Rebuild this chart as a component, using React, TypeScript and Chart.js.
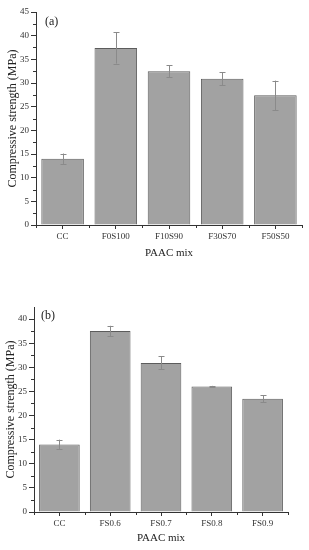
import React, { useEffect, useRef } from "react";
import { Chart, registerables } from "chart.js";

Chart.register(...registerables);

const labelsA = ["CC", "F0S100", "F10S90", "F30S70", "F50S50"];
const valuesA = [14.0, 37.4, 32.5, 30.9, 27.4];
const errorsA = [1.1, 3.3, 1.25, 1.35, 3.1];

const labelsB = ["CC", "FS0.6", "FS0.7", "FS0.8", "FS0.9"];
const valuesB = [14.0, 37.5, 30.9, 26.0, 23.5];
const errorsB = [1.0, 1.1, 1.35, 0.15, 0.75];

const yTitle = "Compressive strength (MPa)";
const xTitle = "PAAC mix";

const FONT = "'Liberation Serif', 'Times New Roman', serif";

const errorBarPlugin = {
  id: "errorBars",
  afterDatasetsDraw(chart: any, _args: any, opts: any) {
    const errs: number[] = opts.errors || [];
    const meta = chart.getDatasetMeta(0);
    const ys = chart.scales.y;
    const ds = chart.data.datasets[0].data as number[];
    const ctx = chart.ctx;
    ctx.save();
    ctx.strokeStyle = "#8a8a8a";
    ctx.lineWidth = 1;
    meta.data.forEach((bar: any, i: number) => {
      const v = ds[i];
      const e = errs[i] || 0;
      const x = Math.round(bar.x) + 0.5;
      const t = ys.getPixelForValue(v + e);
      const b = ys.getPixelForValue(v - e);
      ctx.beginPath();
      ctx.moveTo(x, t);
      ctx.lineTo(x, b);
      ctx.moveTo(x - 3, Math.round(t) + 0.5);
      ctx.lineTo(x + 3, Math.round(t) + 0.5);
      ctx.moveTo(x - 3, Math.round(b) + 0.5);
      ctx.lineTo(x + 3, Math.round(b) + 0.5);
      ctx.stroke();
    });
    ctx.restore();
  },
};

const decorPlugin = {
  id: "decor",
  afterDraw(chart: any, _args: any, opts: any) {
    const ctx = chart.ctx;
    const ys = chart.scales.y;
    const xs = chart.scales.x;
    const area = chart.chartArea;
    ctx.save();
    ctx.strokeStyle = "#333";
    ctx.lineWidth = 1;
    // minor y ticks
    for (let v = 2.5; v < ys.max; v += 5) {
      const y = Math.round(ys.getPixelForValue(v)) + 0.5;
      ctx.beginPath();
      ctx.moveTo(area.left - 3, y);
      ctx.lineTo(area.left, y);
      ctx.stroke();
    }
    // minor x ticks at category boundaries
    const n = chart.data.labels.length;
    for (let i = 0; i <= n; i++) {
      const x = Math.round(xs.getPixelForValue(i - 0.5)) + 0.5;
      ctx.beginPath();
      ctx.moveTo(x, area.bottom);
      ctx.lineTo(x, area.bottom + 3);
      ctx.stroke();
    }
    // panel label
    ctx.fillStyle = "#222";
    ctx.font = `12px ${FONT}`;
    ctx.textBaseline = "middle";
    ctx.textAlign = "left";
    ctx.fillText(opts.label, area.left + opts.dx, area.top + opts.dy);
    ctx.restore();
  },
};

type Cfg = {
  labels: string[];
  values: number[];
  errors: number[];
  max: number;
  panel: string;
  padTop: number;
  padRight: number;
  yWidth: number;
  xHeight: number;
  xTitlePad: number;
  yTitlePad: number;
  panelDx: number;
  panelDy: number;
};

function BarPanel({ cfg }: { cfg: Cfg }) {
  const ref = useRef<HTMLCanvasElement | null>(null);
  useEffect(() => {
    if (!ref.current) return;
    const chart = new Chart(ref.current, {
      type: "bar",
      data: {
        labels: cfg.labels,
        datasets: [
          {
            data: cfg.values,
            backgroundColor: "#a2a2a2",
            borderColor: "#5c5c5c",
            borderWidth: 1,
            barPercentage: 0.8,
            categoryPercentage: 1,
          },
        ],
      },
      options: {
        animation: false,
        responsive: false,
        maintainAspectRatio: false,
        layout: {
          padding: { top: cfg.padTop, right: cfg.padRight, left: 0, bottom: 0 },
        },
        plugins: {
          legend: { display: false },
          tooltip: { enabled: false },
          errorBars: { errors: cfg.errors },
          decor: { label: cfg.panel, dx: cfg.panelDx, dy: cfg.panelDy },
        } as any,
        scales: {
          x: {
            offset: true,
            grid: {
              display: true,
              drawOnChartArea: false,
              drawTicks: true,
              tickLength: 4,
              color: "#333",
              offset: false,
            },
            border: { color: "#333", width: 1 },
            ticks: {
              font: { family: FONT, size: 9 },
              color: "#333",
              padding: 2,
              maxRotation: 0,
              autoSkip: false,
            },
            title: {
              display: true,
              text: xTitle,
              font: { family: FONT, size: 11 },
              color: "#222",
              padding: { top: 0, bottom: cfg.xTitlePad },
            },
            afterFit: (s: any) => {
              s.height = cfg.xHeight;
            },
          },
          y: {
            min: 0,
            max: cfg.max,
            grid: {
              display: true,
              drawOnChartArea: false,
              drawTicks: true,
              tickLength: 5,
              color: "#333",
            },
            border: { color: "#333", width: 1 },
            ticks: {
              stepSize: 5,
              font: { family: FONT, size: 9 },
              color: "#333",
              padding: 2,
            },
            afterBuildTicks: (s: any) => {
              s.ticks = s.ticks.filter((t: any) => t.value % 5 === 0);
            },
            title: {
              display: true,
              text: yTitle,
              font: { family: FONT, size: 12 },
              color: "#222",
              padding: { top: cfg.yTitlePad, bottom: 0 },
            },
            afterFit: (s: any) => {
              s.width = cfg.yWidth;
            },
          },
        },
      },
      plugins: [errorBarPlugin, decorPlugin],
    });
    return () => chart.destroy();
  }, []);
  return <canvas ref={ref} width={309} height={275} style={{ display: "block", width: 309, height: 275 }} />;
}

const cfgA: Cfg = {
  labels: labelsA,
  values: valuesA,
  errors: errorsA,
  max: 45,
  panel: "(a)",
  padTop: 12,
  padRight: 7,
  yWidth: 36,
  xHeight: 50,
  xTitlePad: 15,
  yTitlePad: 6,
  panelDx: 9,
  panelDy: 10,
};

const cfgB: Cfg = {
  labels: labelsB,
  values: valuesB,
  errors: errorsB,
  max: 42.5,
  panel: "(b)",
  padTop: 32,
  padRight: 21,
  yWidth: 34,
  xHeight: 38,
  xTitlePad: 5,
  yTitlePad: 4,
  panelDx: 7,
  panelDy: 9,
};

export default function App() {
  return (
    <div style={{ position: "absolute", left: 0, top: 0, width: 309, height: 550, background: "#fff" }}>
      <BarPanel cfg={cfgA} />
      <BarPanel cfg={cfgB} />
    </div>
  );
}
